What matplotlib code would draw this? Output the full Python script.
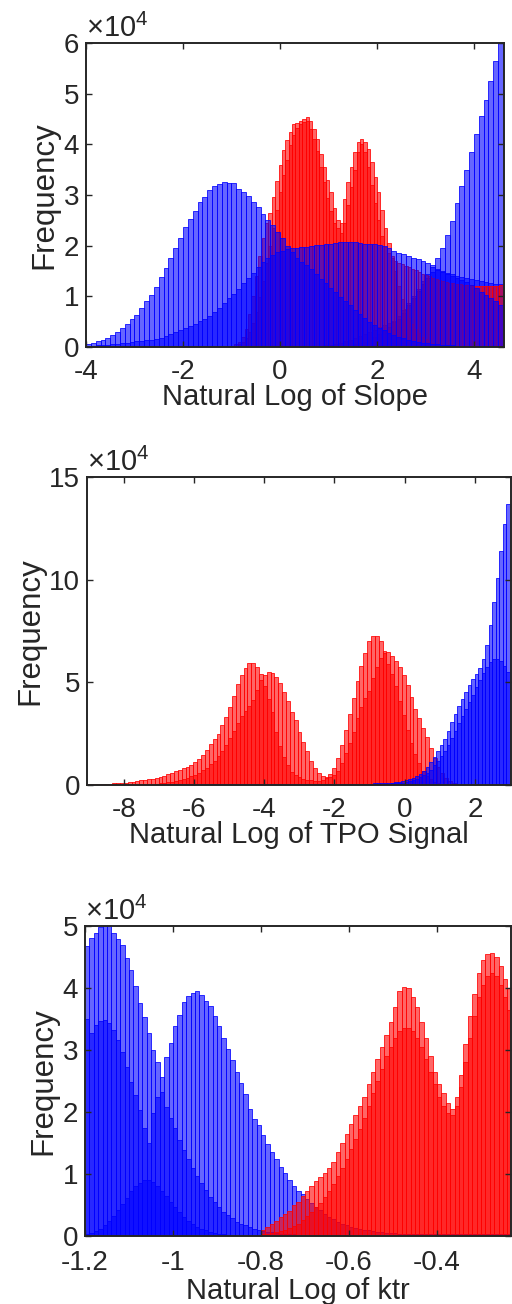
import numpy as np
import matplotlib
matplotlib.use("Agg")
import matplotlib.pyplot as plt

plt.rcParams['font.family'] = ['Liberation Sans', 'DejaVu Sans']
plt.rcParams['axes.unicode_minus'] = False
plt.rcParams['mathtext.fontset'] = 'custom'
plt.rcParams['mathtext.rm'] = 'Liberation Sans'
plt.rcParams['mathtext.it'] = 'Liberation Sans'

# ---------------- data (bin counts in thousands) ----------------
# Panel 1: Natural Log of Slope
slope_blue_start, slope_blue_width = -4.0, 0.1
slope_blue_a = [0.5, 0.8, 1.1, 1.4, 1.8, 2.3, 2.9, 3.7, 4.6, 5.5,
                6.4, 7.6, 9.0, 10.3, 11.9, 13.8, 15.6, 17.6, 19.5, 21.5,
                23.6, 25.3, 26.9, 28.6, 29.6, 31.0, 31.7, 32.1, 32.5, 32.4,
                32.4, 31.2, 30.6, 29.8, 28.7, 27.6, 26.3, 25.0, 24.0, 22.7,
                21.5, 20.0, 18.8, 17.6, 16.8, 16.2, 15.3, 14.4, 13.5, 12.6,
                11.7, 10.8, 9.9, 9.0, 8.2, 7.4, 6.6, 5.8, 5.0, 4.4,
                3.8, 3.3, 2.8, 2.4, 2.0, 1.7, 1.4, 1.2, 1.0, 0.8,
                0.7, 0.6, 0.5, 0.4, 0.3, 0.3, 0.2, 0.2, 0.1, 0.1,
                0.1, 0.1, 0.1, 0.1, 0.1, 0.1]
slope_blue_b = [0.2, 0.25, 0.3, 0.35, 0.4, 0.5, 0.6, 0.7, 0.8, 1.0,
                1.1, 1.2, 1.3, 1.4, 1.6, 1.8, 2.1, 2.5, 2.9, 3.3,
                3.7, 4.1, 4.5, 5.1, 5.6, 6.2, 6.9, 7.6, 8.6, 9.6,
                10.5, 11.5, 12.7, 13.6, 14.6, 15.8, 16.8, 17.6, 18.2, 18.7,
                19.0, 19.3, 19.5, 19.6, 19.7, 19.8, 20.0, 20.1, 20.2, 20.3,
                20.4, 20.5, 20.7, 20.8, 20.8, 20.7, 20.6, 20.4, 20.3, 20.3,
                20.2, 20.0, 19.6, 19.0, 18.6, 18.3, 17.9, 17.6, 17.3, 16.9,
                16.6, 16.2, 15.4, 14.9, 14.5, 14.1, 13.7, 13.2, 12.8, 12.2,
                11.6, 10.9, 10.2, 9.6, 9.0, 8.3]
slope_blue_c_start = 1.5
slope_blue_c = [0.5, 0.7, 1.0, 1.4, 1.9, 2.5, 3.2, 4.0, 5.0, 6.1,
                7.3, 8.6, 10.0, 11.5, 13.0, 14.4, 15.8, 17.6, 19.5, 22.2,
                24.8, 28.5, 31.8, 35.0, 38.5, 42.0, 45.5, 48.8, 52.5, 56.5,
                61.0]
slope_blue_d_start = 0.9
slope_blue_d = [0.3, 0.4, 0.6, 0.8, 1.1, 1.4, 1.8, 2.2, 2.6, 3.0,
                3.4, 3.9, 4.4, 4.8, 5.2, 5.6, 6.8, 8.2, 9.6, 11.0,
                12.4, 13.6, 14.8, 15.2, 15.0, 14.7, 14.4, 14.1, 13.8, 13.6,
                13.4, 13.2, 13.0, 12.8, 12.6, 12.5, 12.4]
slope_red_start, slope_red_width = -1.01, 0.07
slope_red_a = [0.2, 0.5, 1.0, 2.0, 3.5, 6.5, 10.0, 14.0, 18.0, 21.5,
               24.5, 26.4, 29.6, 32.8, 35.9, 38.9, 40.8, 42.5, 44.1, 44.3,
               44.6, 45.0, 44.6, 43.0, 41.0, 38.6, 35.5, 32.5, 29.5, 26.8,
               24.5, 23.5, 24.5, 29.3, 32.6, 35.5, 38.5, 40.5, 40.0, 38.5,
               35.5, 32.0, 28.5, 25.0, 22.0, 19.8, 18.5, 17.6, 17.0, 16.6,
               16.3, 16.0, 15.7, 15.4, 15.1, 14.8, 14.5, 14.2, 14.0, 13.7,
               13.5, 13.3, 13.1, 12.9, 12.7, 12.6, 12.5, 12.4, 12.3, 12.2,
               12.2, 12.1, 12.1, 12.1, 12.0, 12.0, 12.0, 12.1, 12.1, 12.2]
slope_red_b = [0.1, 0.2, 0.5, 1.0, 1.8, 3.0, 4.8, 7.0, 9.8, 13.0,
               16.5, 20.0, 23.5, 27.0, 30.5, 34.0, 37.0, 39.8, 41.8, 43.2,
               44.0, 44.5, 45.3, 44.6, 43.0, 41.0, 38.0, 35.5, 33.0, 30.5,
               27.5, 25.0, 22.5, 24.5, 28.0, 31.5, 35.0, 38.5, 41.0, 40.5,
               39.0, 36.5, 33.5, 30.5, 27.0, 23.5, 20.5, 18.0, 15.0, 12.0,
               9.5, 7.5, 5.8, 4.5, 3.5, 2.7, 2.0, 1.5, 1.1, 0.8,
               0.6, 0.4, 0.3, 0.2, 0.15, 0.1, 0.1, 0.1, 0.1, 0.1,
               0.1, 0.1, 0.1, 0.1, 0.1, 0.1, 0.1, 0.1, 0.1, 0.1]

# Panel 2: Natural Log of TPO Signal
tpo_red_start, tpo_red_width = -9.1, 0.11
tpo_red_a = [0.4, 0.45, 0.5, 0.55, 0.6, 0.65, 0.7, 0.8, 0.9, 1.0,
             1.2, 1.4, 1.6, 1.9, 2.2, 2.5, 2.8, 3.1, 3.5, 4.0,
             4.5, 5.2, 5.9, 6.7, 7.4, 8.2, 9.0, 9.9, 11.0, 12.5,
             14.5, 17.0, 19.8, 22.5, 25.0, 29.0, 33.0, 38.0, 43.5, 49.0,
             53.5, 57.0, 59.5, 59.5, 57.5, 54.0, 48.0, 42.0, 35.5, 26.0,
             19.0, 13.5, 9.5, 6.5, 4.8, 3.8, 3.0, 2.5, 2.2, 2.0,
             2.0, 2.5, 3.5, 5.5, 8.5, 13.0, 19.5, 27.0, 34.5, 42.5,
             50.5, 58.0, 64.5, 70.0, 72.5, 72.5, 70.0, 65.5, 59.0, 54.0,
             48.0, 41.0, 34.0, 27.0, 20.5, 15.0, 10.5, 7.0, 4.5, 2.8,
             1.7, 1.0, 0.6, 0.3, 0.2, 0.1]
tpo_red_b = [0.0, 0.0, 0.0, 0.0, 0.0, 0.0, 0.0, 0.0, 0.0, 0.0,
             0.1, 0.1, 0.15, 0.2, 0.25, 0.3, 0.4, 0.5, 0.6, 0.8,
             1.0, 1.3, 1.6, 2.0, 2.5, 3.0, 3.6, 4.3, 5.0, 6.0,
             7.2, 8.5, 10.0, 11.8, 14.0, 16.5, 19.5, 23.0, 26.5, 30.0,
             33.5, 36.0, 38.5, 41.5, 46.5, 51.0, 53.5, 55.0, 54.5, 52.5,
             49.5, 45.5, 41.0, 35.5, 31.5, 26.0, 21.0, 16.5, 11.5, 8.5,
             6.0, 4.5, 4.0, 4.0, 5.0, 7.0, 10.5, 15.5, 20.5, 26.0,
             32.5, 38.0, 42.5, 46.0, 52.0, 57.5, 62.0, 64.5, 64.8, 63.0,
             60.5, 57.5, 53.5, 48.5, 43.0, 37.0, 32.5, 28.0, 23.5, 18.0,
             13.0, 9.0, 6.0, 3.5, 2.0, 1.0]
tpo_blue_start, tpo_blue_width = -6.9, 0.1
tpo_blue_a = [0.5, 0.5, 0.5, 0.5, 0.5, 0.5, 0.5, 0.5, 0.5, 0.5,
              0.5, 0.5, 0.5, 0.5, 0.5, 0.5, 0.5, 0.5, 0.5, 0.5,
              0.55, 0.55, 0.55, 0.55, 0.55, 0.55, 0.55, 0.55, 0.55, 0.55,
              0.55, 0.55, 0.55, 0.55, 0.55, 0.55, 0.55, 0.55, 0.55, 0.55,
              0.6, 0.6, 0.6, 0.6, 0.6, 0.6, 0.6, 0.6, 0.6, 0.6,
              0.65, 0.65, 0.65, 0.65, 0.65, 0.65, 0.65, 0.65,
              0.7, 0.7, 0.75, 0.8, 0.85, 0.9, 1.0, 1.2, 1.4, 1.7, 2.0,
              2.4, 2.9, 3.6, 4.5, 5.6, 7.0, 8.8, 11.0, 13.5, 16.5,
              19.5, 22.5, 26.5, 30.5, 34.5, 38.5, 42.0, 45.5, 48.5, 51.5,
              54.0, 57.0, 61.5, 68.0, 78.0, 89.0, 101.0, 114.0, 127.0, 137.0]
tpo_blue_b = [0.4, 0.4, 0.4, 0.4, 0.4, 0.4, 0.4, 0.4, 0.4, 0.4,
              0.4, 0.4, 0.4, 0.4, 0.4, 0.4, 0.4, 0.4, 0.4, 0.4,
              0.4, 0.4, 0.4, 0.4, 0.4, 0.4, 0.4, 0.4, 0.4, 0.4,
              0.45, 0.45, 0.45, 0.45, 0.45, 0.45, 0.45, 0.45, 0.45, 0.45,
              0.45, 0.45, 0.45, 0.45, 0.45, 0.45, 0.45, 0.45, 0.45, 0.45,
              0.5, 0.5, 0.5, 0.5, 0.5, 0.5, 0.5, 0.5,
              0.5, 0.5, 0.55, 0.55, 0.6, 0.6, 0.7, 0.8, 0.9, 1.0, 1.2,
              1.5, 1.9, 2.4, 3.0, 3.8, 4.8, 6.0, 7.5, 9.5, 11.8,
              14.0, 16.5, 19.5, 23.0, 26.5, 30.0, 33.5, 37.0, 40.5, 44.0,
              47.5, 51.0, 54.5, 57.5, 60.0, 61.5, 61.5, 60.5, 58.0, 55.0]

# Panel 3: Natural Log of ktr
ktr_blue_start, ktr_blue_width = -1.2, 0.01
ktr_blue_a = [46.8, 48.0, 48.9, 49.8, 50.3, 50.0, 48.9, 47.9, 47.0, 44.8,
              42.9, 40.4, 37.6, 35.4, 32.8, 30.0, 28.0, 25.6, 28.8, 31.2,
              33.9, 35.6, 37.8, 38.7, 39.2, 39.5, 38.9, 37.9, 37.1, 35.5,
              33.9, 32.0, 30.1, 28.4, 26.5, 24.6, 22.9, 20.5, 18.9, 17.9,
              16.3, 14.8, 13.5, 12.4, 11.1, 10.2, 9.0, 8.1, 7.3, 6.7,
              6.0, 5.4, 4.7, 4.2, 3.5, 3.1, 2.7, 2.3, 2.0, 1.8,
              1.5, 1.3, 1.1, 1.0, 0.9, 0.8, 0.7, 0.6, 0.55, 0.5,
              0.45, 0.4, 0.4, 0.35, 0.35, 0.3, 0.3, 0.3, 0.3, 0.3,
              0.3, 0.3, 0.3, 0.3, 0.3, 0.3, 0.3, 0.3, 0.3, 0.3,
              0.3, 0.3, 0.3, 0.3, 0.3, 0.3, 0.3]
ktr_blue_b = [35.0, 32.7, 34.0, 34.6, 34.9, 34.3, 33.3, 31.6, 29.7, 27.3,
              24.9, 22.8, 20.3, 17.4, 15.0, 19.8, 22.4, 23.2, 20.8, 19.0,
              17.4, 15.5, 13.9, 12.4, 10.9, 9.7, 8.5, 7.4, 6.3, 5.5,
              4.7, 3.9, 3.4, 2.9, 2.3, 2.0, 1.7, 1.4, 1.2, 1.0,
              0.8, 0.7, 0.6, 0.5, 0.4, 0.35, 0.3, 0.25, 0.2, 0.2,
              0.15, 0.15, 0.15, 0.1, 0.1, 0.1, 0.1, 0.1, 0.1, 0.1, 0.1]
ktr_blue_c = [0.3, 0.5, 0.8, 1.2, 1.8, 2.5, 3.3, 4.2, 5.2, 6.2,
              7.2, 8.0, 8.6, 9.0, 9.0, 8.7, 8.1, 7.3, 6.4, 5.5,
              4.6, 3.8, 3.1, 2.5, 2.0, 1.5, 1.2, 0.9, 0.7, 0.5,
              0.4, 0.3, 0.2, 0.15, 0.1]
ktr_red_start, ktr_red_width = -0.80, 0.01
ktr_red_a = [1.0, 1.5, 2.0, 2.5, 3.0, 3.5, 4.0, 5.0, 5.5, 6.5,
             7.2, 8.0, 8.8, 9.5, 10.2, 11.0, 12.0, 13.5, 15.0, 16.5,
             18.0, 19.5, 21.0, 22.5, 24.5, 26.5, 28.5, 30.5, 32.5, 34.5,
             37.0, 39.5, 40.2, 40.0, 38.5, 37.0, 34.5, 32.0, 29.0, 26.5,
             24.5, 23.0, 21.5, 20.5, 22.5, 26.0, 31.0, 35.5, 39.0, 42.5,
             44.5, 45.5, 45.6, 45.0, 43.5, 41.5, 40.0]
ktr_red_b = [0.3, 0.4, 0.5, 0.6, 0.8, 1.0, 1.3, 1.6, 2.0, 2.6,
             3.2, 3.8, 4.6, 5.4, 6.3, 7.3, 8.4, 9.6, 11.0, 12.5,
             14.0, 15.6, 17.3, 19.0, 21.0, 23.0, 25.0, 27.0, 29.0, 30.5,
             32.0, 33.0, 33.5, 33.5, 33.0, 32.0, 30.5, 28.5, 26.5, 24.5,
             22.5, 21.0, 19.8, 19.5, 21.0, 24.0, 28.0, 32.0, 35.5, 38.5,
             40.5, 42.0, 42.5, 42.0, 40.5, 38.5, 36.5]

# ---------------- drawing ----------------
RED = (1.0, 0.0, 0.0)
BLUE = (0.0, 0.0, 1.0)
INK = '#262626'


def draw_hist(ax, start, width, counts_k, color):
    counts = np.asarray(counts_k, dtype=float) * 1000.0
    edges = start + width * np.arange(len(counts) + 1)
    ax.bar(edges[:-1], counts, width=width, align='edge',
           color=(*color, 0.6), edgecolor=(*color, 1.0), linewidth=0.55)


def style(ax, xlim, ylim, xticks, xticklabels, yticks, yticklabels, xlabel,
          xpad=8.5, xlabelpad=-1):
    ax.set_xlim(*xlim)
    ax.set_ylim(*ylim)
    ax.set_xticks(xticks)
    ax.set_xticklabels(xticklabels)
    ax.set_yticks(yticks)
    ax.set_yticklabels(yticklabels)
    ax.tick_params(direction='in', top=True, right=True, length=4.5,
                   width=1.0, labelsize=20, colors=INK)
    ax.tick_params(axis='x', pad=xpad)
    ax.tick_params(axis='y', pad=5)
    for s in ax.spines.values():
        s.set_linewidth(1.4)
        s.set_color(INK)
    ax.set_xlabel(xlabel, fontsize=21, color=INK, labelpad=xlabelpad)
    ax.set_ylabel('Frequency', fontsize=22.5, color=INK, labelpad=3)
    ax.text(0.0, 1.0, r'$\times10^{4}$', transform=ax.transAxes,
            ha='left', va='bottom', fontsize=21, color=INK)
    ax.set_axisbelow(False)


W, H = 512, 1304
fig = plt.figure(figsize=(W / 100, H / 100), dpi=100)


def add_axes(left, top, right, bottom):
    return fig.add_axes([left / W, 1 - bottom / H, (right - left) / W, (bottom - top) / H])


# Panel 1
ax1 = add_axes(86, 43, 504, 347)
draw_hist(ax1, slope_blue_c_start, slope_blue_width, slope_blue_c, BLUE)
draw_hist(ax1, slope_blue_d_start, slope_blue_width, slope_blue_d, BLUE)
draw_hist(ax1, slope_red_start, slope_red_width, slope_red_a, RED)
draw_hist(ax1, slope_red_start, slope_red_width, slope_red_b, RED)
draw_hist(ax1, slope_blue_start, slope_blue_width, slope_blue_a, BLUE)
draw_hist(ax1, slope_blue_start, slope_blue_width, slope_blue_b, BLUE)
style(ax1, (-4, 4.62), (0, 6e4), [-4, -2, 0, 2, 4], ['-4', '-2', '0', '2', '4'],
      [0, 1e4, 2e4, 3e4, 4e4, 5e4, 6e4], ['0', '1', '2', '3', '4', '5', '6'],
      'Natural Log of Slope')

# Panel 2
ax2 = add_axes(87, 477, 511, 785)
draw_hist(ax2, tpo_red_start, tpo_red_width, tpo_red_a, RED)
draw_hist(ax2, tpo_red_start, tpo_red_width, tpo_red_b, RED)
draw_hist(ax2, tpo_blue_start, tpo_blue_width, tpo_blue_a, BLUE)
draw_hist(ax2, tpo_blue_start, tpo_blue_width, tpo_blue_b, BLUE)
style(ax2, (-9.05, 3.03), (0, 15e4), [-8, -6, -4, -2, 0, 2],
      ['-8', '-6', '-4', '-2', '0', '2'],
      [0, 5e4, 10e4, 15e4], ['0', '5', '10', '15'],
      'Natural Log of TPO Signal')

# Panel 3
ax3 = add_axes(85, 926, 511, 1236)
draw_hist(ax3, ktr_blue_start, ktr_blue_width, ktr_blue_a, BLUE)
draw_hist(ax3, ktr_blue_start, ktr_blue_width, ktr_blue_b, BLUE)
draw_hist(ax3, ktr_blue_start, ktr_blue_width, ktr_blue_c, BLUE)
draw_hist(ax3, ktr_red_start, ktr_red_width, ktr_red_a, RED)
draw_hist(ax3, ktr_red_start, ktr_red_width, ktr_red_b, RED)
style(ax3, (-1.2, -0.232), (0, 5e4), [-1.2, -1.0, -0.8, -0.6, -0.4],
      ['-1.2', '-1', '-0.8', '-0.6', '-0.4'],
      [0, 1e4, 2e4, 3e4, 4e4, 5e4], ['0', '1', '2', '3', '4', '5'],
      'Natural Log of ktr', xpad=10.0, xlabelpad=0.5)

fig.savefig('out.png', dpi=100)
